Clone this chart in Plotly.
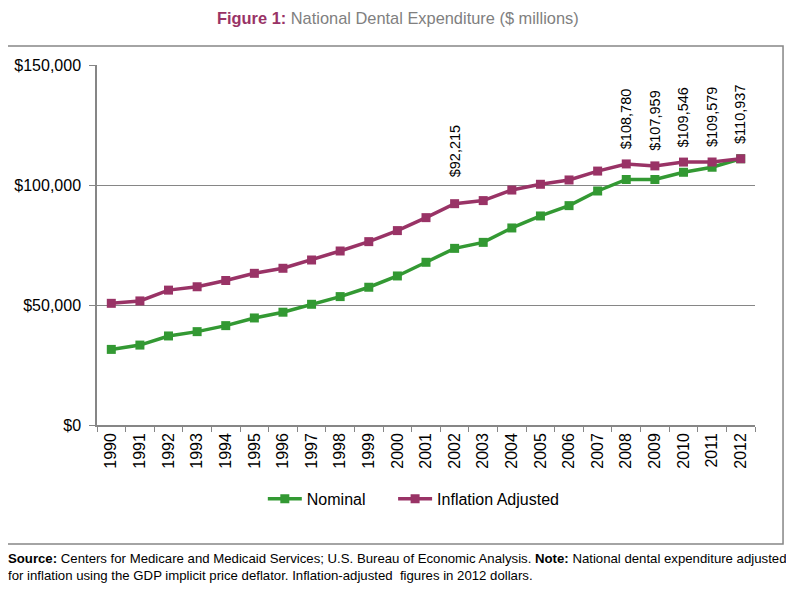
import plotly.graph_objects as go

years = [str(y) for y in range(1990, 2013)]
nominal = [31500, 33300, 37100, 38900, 41400, 44600, 47000, 50300, 53500, 57400,
           62100, 67800, 73600, 76100, 82100, 87100, 91400, 97500, 102300, 102300,
           105300, 107400, 110937]
inflation_adj = [50700, 51700, 56200, 57600, 60200, 63200, 65300, 68750, 72500, 76400,
                 81000, 86400, 92215, 93500, 97900, 100300, 102100, 105800, 108780, 107959,
                 109546, 109579, 110937]
label_years = ["2002", "2008", "2009", "2010", "2011", "2012"]
y_ticks = [0, 50000, 100000, 150000]
y_tick_text = ["$0", "$50,000", "$100,000", "$150,000"]

GREEN = "#339933"
PURPLE = "#993366"
GRID = "#868686"
FONT = "Arial, Liberation Sans, sans-serif"
label_shift = {"2002": 24}

fig = go.Figure()
fig.add_trace(go.Scatter(x=years, y=nominal, name="Nominal", mode="lines+markers",
                         line=dict(color=GREEN, width=3.5), legend="legend",
                         marker=dict(symbol="square", size=9, color=GREEN)))
fig.add_trace(go.Scatter(x=years, y=inflation_adj, name="Inflation Adjusted", mode="lines+markers",
                         line=dict(color=PURPLE, width=3.5), legend="legend2",
                         marker=dict(symbol="square", size=9, color=PURPLE)))

for yr in label_years:
    i = years.index(yr)
    v = inflation_adj[i]
    fig.add_annotation(x=i, y=v, xref="x", yref="y", text="${:,}".format(v),
                       showarrow=False, textangle=-90, yanchor="bottom", xanchor="center",
                       yshift=label_shift.get(yr, 13), font=dict(family=FONT, size=14.5, color="#000000"))

fig.add_annotation(xref="paper", yref="paper", x=0.457, y=1.13, xanchor="center", yanchor="middle",
                   showarrow=False,
                   text="<b><span style='color:#993366'>Figure 1:</span></b> National Dental Expenditure ($ millions)",
                   font=dict(family=FONT, size=16.4, color="#808080"))

fig.add_annotation(xref="paper", yref="paper", x=-0.139, y=-0.345, xanchor="left", yanchor="top",
                   showarrow=False, align="left",
                   text="<b>Source:</b> Centers for Medicare and Medicaid Services; U.S. Bureau of Economic Analysis. "
                        "<b>Note:</b> National dental expenditure adjusted<br>for inflation using the GDP implicit price deflator. "
                        "Inflation-adjusted  figures in 2012 dollars.",
                   font=dict(family=FONT, size=13.2, color="#000000"))

# outer chart border
fig.add_shape(type="rect", xref="paper", yref="paper", x0=-0.1368, x1=1.0426, y0=-0.3306, y1=1.0528,
              line=dict(color="#868686", width=1.5), fillcolor="rgba(0,0,0,0)", layer="below")

legend_style = dict(orientation="h", xanchor="left", y=-0.205, yanchor="middle",
                    font=dict(family=FONT, size=16), itemwidth=34, bgcolor="rgba(0,0,0,0)")

fig.update_layout(
    width=794, height=597,
    margin=dict(l=89, r=47, t=57, b=180, autoexpand=False),
    paper_bgcolor="white", plot_bgcolor="white",
    font=dict(family=FONT, size=16, color="#000000"),
    showlegend=True,
    legend=dict(x=0.252, **legend_style),
    legend2=dict(x=0.45, **legend_style),
    xaxis=dict(type="category", range=[-0.5, len(years) - 0.5], tickangle=-90, showline=True,
               linecolor=GRID, linewidth=1.5,
               ticks="outside", tickson="boundaries", ticklen=5, tickcolor=GRID,
               showgrid=False, tickfont=dict(family=FONT, size=16), automargin=False),
    yaxis=dict(range=[0, 150000], tickvals=y_ticks, ticktext=y_tick_text,
               showline=True, linecolor=GRID, linewidth=1.5, ticks="outside", ticklen=6,
               ticklabelstandoff=5,
               tickcolor=GRID, showgrid=True, gridcolor=GRID, gridwidth=1.2,
               zeroline=False, tickfont=dict(family=FONT, size=16), automargin=False),
)

fig.write_html("out.html")
